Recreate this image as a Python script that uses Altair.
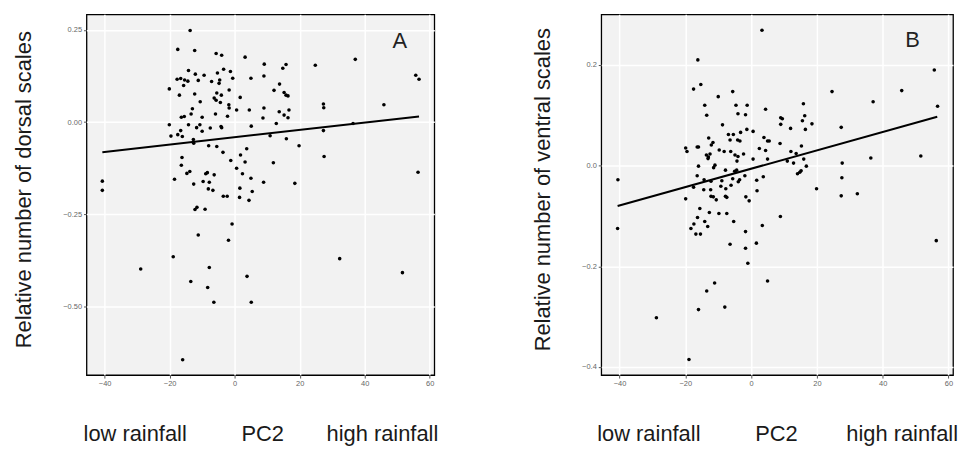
import altair as alt
import pandas as pd

# ---------------- Panel A: dorsal scales ----------------
a_pc2 = [-13.7, -17.5, -12.3, -5.7, -4.0, 3.2, 37.1, 24.8, 9.1, 15.8, 14.8, -14.2, -3.4, -1.3,
         -12.1, -9.4, -5.3, 55.7, 56.7, -17.7, -16.6, -15.4, -14.4, -11.2, -7.1, -4.6, -4.8,
         -0.6, 5.0, 9.0, 13.8, -15.7, -20.1, -1.7, 12.1, -17.0, -12.3, -5.5, -4.1, 15.2, 15.8,
         16.4, 1.7, -6.3, -5.7, -4.4, -10.6, 27.3, 27.4, 45.9, -1.8, -1.7, -13.0, -13.4, 0.6,
         4.5, 9.0, 13.7, 16.7, -5.9, -2.2, -16.4, -15.5, -10.0, 8.7, 15.2, 16.4, -20.1, -14.2,
         -10.7, -11.7, -7.5, -4.2, -4.0, -10.0, 5.1, 12.8, 36.4, -16.6, -17.5, -19.6, -16.1,
         27.3, 10.9, 15.9, -12.7, -12.6, -8.0, -5.5, 19.8, 3.7, -3.6, 1.8, -16.2, 27.5, -1.2,
         3.2, -16.4, 11.9, 0.6, -13.8, -14.7, -8.4, -8.9, -6.3, 2.4, 56.4, -18.5, -9.7, -7.8,
         -12.6, 5.0, 8.9, 18.5, -40.7, -40.7, -8.1, -6.7, 1.6, 5.4, -3.5, -2.3, 1.5, 4.4,
         -12.2, -11.6, -9.1, -0.8, -11.2, -1.9, -18.9, 32.3, -28.9, -7.8, 51.6, 3.8, -13.5,
         -8.3, -6.4, 5.1, -16.0]
a_dorsal = [0.248, 0.197, 0.194, 0.186, 0.181, 0.176, 0.170, 0.154, 0.157, 0.156, 0.146, 0.140,
            0.143, 0.137, 0.130, 0.127, 0.133, 0.127, 0.116, 0.116, 0.118, 0.114, 0.111, 0.113,
            0.110, 0.114, 0.105, 0.119, 0.119, 0.125, 0.103, 0.099, 0.090, 0.087, 0.086, 0.073,
            0.076, 0.079, 0.073, 0.080, 0.073, 0.071, 0.067, 0.065, 0.059, 0.053, 0.055, 0.049,
            0.039, 0.047, 0.047, 0.038, 0.036, 0.022, 0.033, 0.033, 0.038, 0.028, 0.033, 0.022,
            0.016, 0.013, 0.015, 0.013, 0.011, 0.019, 0.012, -0.007, -0.007, -0.007, -0.015,
            -0.016, -0.012, -0.015, -0.025, -0.011, -0.004, -0.004, -0.023, -0.034, -0.038,
            -0.039, -0.023, -0.037, -0.045, -0.047, -0.057, -0.064, -0.066, -0.064, -0.072,
            -0.082, -0.089, -0.096, -0.093, -0.104, -0.108, -0.117, -0.110, -0.125, -0.134,
            -0.139, -0.137, -0.140, -0.143, -0.140, -0.136, -0.155, -0.161, -0.163, -0.168,
            -0.152, -0.163, -0.166, -0.160, -0.185, -0.181, -0.185, -0.179, -0.188, -0.201,
            -0.201, -0.204, -0.212, -0.237, -0.231, -0.236, -0.276, -0.306, -0.320, -0.365,
            -0.370, -0.398, -0.394, -0.408, -0.418, -0.432, -0.448, -0.488, -0.488, -0.644]
a_fit_pc2 = [-40.7, 56.7]
a_fit_val = [-0.0815, 0.0153]

# ---------------- Panel B: ventral scales ----------------
b_pc2 = [3.3, -16.2, 55.7, -15.3, -17.5, -5.6, 24.6, 45.8, 37.1, -10.0, 15.9, -14.1, -4.6, -1.2,
         56.7, 4.4, -13.5, -4.0, -1.7, 16.3, 9.0, 9.5, 15.6, 18.5, -8.7, 9.0, 27.4, 12.0, 16.5,
         -1.3, 0.6, -3.2, -6.9, -5.4, -6.4, -4.1, -3.4, -12.9, 3.9, 5.0, 5.5, -11.6, -12.1, 8.8,
         15.3, -19.9, -19.5, -16.4, -16.0, 2.5, -9.7, -8.2, 4.4, -6.2, 12.1, 13.7, -13.6, -13.0,
         -12.5, -13.1, -4.9, -4.0, -2.3, -4.3, 0.6, 5.0, 16.0, 36.4, 51.6, 11.0, 12.9, 27.7,
         16.8, -16.0, -11.0, -11.4, -7.8, -5.0, -4.4, -16.4, -1.9, 3.7, 14.1, 14.8, 15.2, -14.3,
         -12.2, -8.9, -5.6, -3.9, -3.5, 1.7, 27.6, -40.5, -17.5, -14.4, -12.3, -9.2, -7.7, -6.1,
         1.8, 19.9, 27.4, 32.3, -19.9, -12.2, -11.5, -10.6, -7.8, -7.4, -1.6, -0.6, -15.6,
         -16.3, -12.7, -9.8, -7.4, -14.1, -17.4, -13.2, -18.3, -16.8, -15.4, -5.3, 8.9, 3.4,
         -1.7, -6.4, 1.6, -1.7, -40.6, -1.0, 5.0, -11.1, -13.5, -16.0, -8.0, -28.8, -18.9, 56.3]
b_ventral = [0.269, 0.210, 0.190, 0.161, 0.152, 0.147, 0.147, 0.149, 0.127, 0.137, 0.123, 0.120,
             0.120, 0.120, 0.118, 0.112, 0.100, 0.103, 0.101, 0.099, 0.095, 0.093, 0.089, 0.083,
             0.081, 0.082, 0.076, 0.074, 0.072, 0.072, 0.068, 0.066, 0.062, 0.062, 0.051, 0.051,
             0.049, 0.055, 0.056, 0.049, 0.049, 0.046, 0.041, 0.044, 0.039, 0.035, 0.028, 0.037,
             0.037, 0.034, 0.031, 0.028, 0.030, 0.028, 0.028, 0.024, 0.021, 0.017, 0.023, 0.014,
             0.021, 0.018, 0.023, 0.009, 0.013, 0.013, 0.013, 0.015, 0.019, 0.009, 0.005, 0.005,
             -0.001, -0.001, 0.001, -0.004, -0.009, -0.011, -0.009, -0.020, -0.020, -0.022,
             -0.016, -0.013, -0.010, -0.028, -0.031, -0.030, -0.026, -0.032, -0.028, -0.029,
             -0.024, -0.028, -0.043, -0.048, -0.048, -0.041, -0.046, -0.039, -0.050, -0.046,
             -0.060, -0.056, -0.066, -0.061, -0.062, -0.068, -0.061, -0.063, -0.062, -0.070,
             -0.085, -0.103, -0.093, -0.095, -0.095, -0.111, -0.116, -0.121, -0.125, -0.136,
             -0.136, -0.111, -0.101, -0.119, -0.131, -0.156, -0.154, -0.164, -0.125, -0.194,
             -0.229, -0.233, -0.249, -0.286, -0.281, -0.302, -0.385, -0.149]
b_fit_pc2 = [-40.6, 56.6]
b_fit_val = [-0.0802, 0.0971]

x_ticks = [-40, -20, 0, 20, 40, 60]
a_y_ticks = [-0.5, -0.25, 0.0, 0.25]
b_y_ticks = [-0.4, -0.2, 0.0, 0.2]

NB = "\u00a0"
FONT = "Liberation Sans"


def panel(px, py, fx, fy, ydom, yticks, yfmt, ytitle, xtitle, letter, lx, ly, width):
    pts = pd.DataFrame({"PC2": px, "val": py})
    fit = pd.DataFrame({"PC2": fx, "val": fy})
    lab = pd.DataFrame({"PC2": [lx], "val": [ly], "t": [letter]})
    xs = alt.Scale(domain=[-45.57, 61.4], nice=False, zero=False)
    ys = alt.Scale(domain=ydom, nice=False, zero=False)
    xenc = alt.X("PC2:Q", scale=xs,
                 axis=alt.Axis(values=x_ticks, format="d", title=xtitle, labelFlush=False))
    yenc = alt.Y("val:Q", scale=ys,
                 axis=alt.Axis(values=yticks, format=yfmt, title=ytitle, titleY=176))
    points = alt.Chart(pts).mark_circle(size=13, color="black", opacity=1).encode(x=xenc, y=yenc)
    line = alt.Chart(fit).mark_line(color="black", strokeWidth=2).encode(
        x=alt.X("PC2:Q", scale=xs), y=alt.Y("val:Q", scale=ys))
    txt = alt.Chart(lab).mark_text(fontSize=22, font=FONT, color="#222").encode(
        x=alt.X("PC2:Q", scale=xs), y=alt.Y("val:Q", scale=ys), text="t:N")
    return alt.layer(points, line, txt).properties(width=width, height=363)


xtitle_a = "low rainfall" + NB * 9 + "PC2" + NB * 7 + "high rainfall"
xtitle_b = "low rainfall" + NB * 9 + "PC2" + NB * 8 + "high rainfall"

pA = panel(a_pc2, a_dorsal, a_fit_pc2, a_fit_val, [-0.6855, 0.292], a_y_ticks, ".2f",
           "Relative number of dorsal scales", xtitle_a, "A", 50.8, 0.22, 350)
pB = panel(b_pc2, b_ventral, b_fit_pc2, b_fit_val, [-0.416, 0.3005], b_y_ticks, ".1f",
           "Relative number of ventral scales", xtitle_b, "B", 49.1, 0.25, 354)

chart = alt.hconcat(pA, pB, spacing=92).properties(
    padding={"left": 3, "top": 4, "right": 0, "bottom": 0}
).configure_view(
    fill="#F2F2F2", stroke="black", strokeWidth=1.3
).configure_axis(
    grid=True, gridColor="white", gridWidth=1.5, domain=False,
    ticks=True, tickColor="#555", tickSize=3, tickWidth=1,
    labelColor="#666", labelFontSize=7.5, labelFont=FONT, labelPadding=2,
    titleFont=FONT, titleFontSize=22, titleFontWeight="normal", titleColor="#1a1a1a"
).configure_axisY(titlePadding=27.5).configure_axisX(titlePadding=36)

chart.save("out.html", embed_options={"renderer": "svg", "actions": False})
